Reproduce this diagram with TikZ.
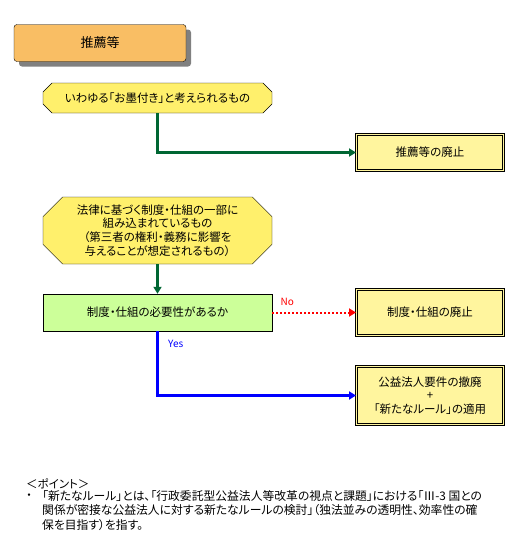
\documentclass[tikz,border=0pt]{standalone}
\usepackage{fontspec}
\setmainfont{Noto Sans CJK JP}[RawFeature=+palt]
\usetikzlibrary{arrows.meta, shapes.misc, shadows}
\definecolor{titleorange}{HTML}{F9BE64}
\definecolor{octyellow}{HTML}{FFF06C}
\definecolor{resyellow}{HTML}{FFF59E}
\definecolor{askgreen}{HTML}{CCFF99}
\definecolor{flowgreen}{HTML}{006633}
\newcommand{\bodyfont}{\fontsize{11.5}{13.7}\selectfont}

\begin{document}
\begin{tikzpicture}[x=1pt, y=-1pt,
  titlebox/.style={rectangle, draw, rounded corners=3pt, fill=titleorange, minimum width=172pt, minimum height=37pt, font=\fontsize{13}{15}\selectfont, drop shadow={shadow xshift=5pt, shadow yshift=-5pt, fill=black!50, opacity=1}},
  octbox/.style={chamfered rectangle, chamfered rectangle xsep=10pt, draw, fill=octyellow, minimum width=229pt, inner sep=0pt, align=center, font=\bodyfont},
  askbox/.style={rectangle, draw, fill=askgreen, minimum width=229pt, minimum height=37pt, font=\bodyfont},
  resbox/.style={rectangle, draw, line width=1pt, double=resyellow, double distance=1.4pt, fill=resyellow, minimum width=147pt, inner sep=0pt, align=center, font=\bodyfont},
  arr/.style={-{Triangle[length=7pt, width=8pt]}},
  note/.style={font=\bodyfont, align=left, inner sep=0pt}
]
  \useasboundingbox (0,0) rectangle (525,560);

  % Title
  \node[titlebox] (title) at (100,43) {推薦等};

  % Endorsement branch
  \node[octbox, minimum height=30pt] (endorse) at (157.5,98) {いわゆる「お墨付き」と考えられるもの};
  \node[resbox, minimum height=36pt] (abolish) at (430,152.5) {推薦等の廃止};
  \draw[arr, flowgreen, line width=2.2pt] (endorse.south) |- (abolish.west);

  % Legal system branch
  \node[octbox, chamfered rectangle xsep=16pt, minimum height=67pt] (system) at (157.5,230.5) {法律に基づく制度・仕組の一部に\\組み込まれているもの\\（第三者の権利・義務に影響を\\与えることが想定されるもの）};
  \node[askbox] (need) at (157.5,312.5) {制度・仕組の必要性があるか};
  \draw[arr, flowgreen, line width=2.2pt] (system.south) -- (need.north);

  % No
  \node[resbox, minimum height=46pt] (sysend) at (430,312.5) {制度・仕組の廃止};
  \draw[arr, red, line width=2pt, dash pattern=on 2pt off 2pt] (need.east) -- (sysend.west)
    node[pos=0.18, above=3pt, font=\fontsize{10}{12}\selectfont] {No};

  % Yes
  \node[resbox, minimum height=58pt] (newrule) at (430,395.5) {公益法人要件の撤廃\\+\\「新たなルール」の適用};
  \draw[arr, blue, line width=2.8pt] (need.south) |- (newrule.west)
    node[pos=0.1, right=6pt, font=\fontsize{10}{12}\selectfont] {Yes};

  % Note
  \node[note, anchor=west] (point) at (26,484) {＜ポイント＞};
  \node[note, anchor=west] (bullet) at (26,497) {・};
  \node[note, anchor=north west, font=\fontsize{11.8}{14.5}\selectfont] (notetext) at (42,490) {「新たなルール」とは、「行政委託型公益法人等改革の視点と課題」における「Ⅲ-3 国との\\関係が密接な公益法人に対する新たなルールの検討」（独法並みの透明性、効率性の確\\保を目指す）を指す。};
\end{tikzpicture}
\end{document}
